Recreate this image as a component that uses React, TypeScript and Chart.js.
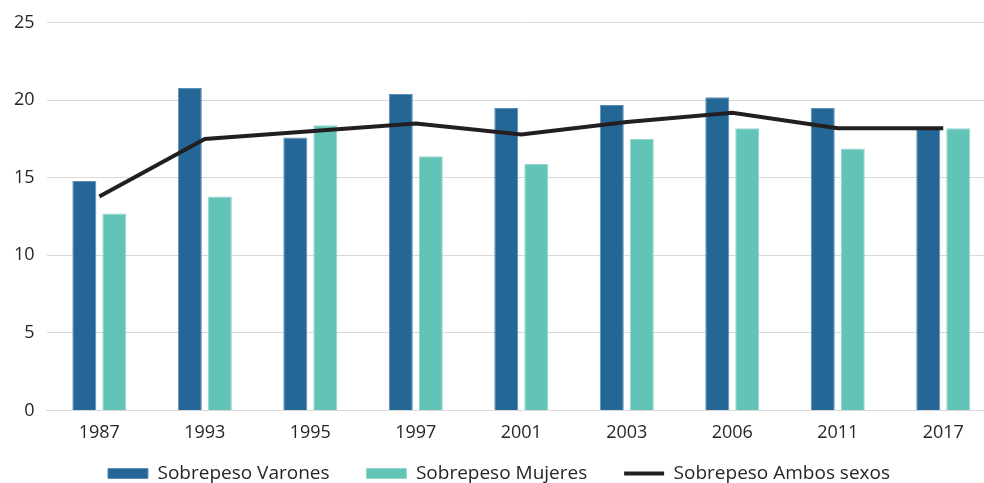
import React, { useEffect, useRef } from "react";
import { Chart, registerables } from "chart.js";

Chart.register(...registerables);

const categories = ["1987", "1993", "1995", "1997", "2001", "2003", "2006", "2011", "2017"];
const varones = [14.8, 20.8, 17.6, 20.4, 19.5, 19.7, 20.2, 19.5, 18.2];
const mujeres = [12.7, 13.8, 18.4, 16.4, 15.9, 17.5, 18.2, 16.9, 18.2];
const ambos = [13.8, 17.5, 18.0, 18.5, 17.8, 18.6, 19.2, 18.2, 18.2];
const yTicks = [0, 5, 10, 15, 20, 25];

const FONT = "'Open Sans', 'Noto Sans', sans-serif";

export default function App() {
  const ref = useRef<HTMLCanvasElement | null>(null);

  useEffect(() => {
    if (!ref.current) return;
    const chart = new Chart(ref.current, {
      type: "bar",
      data: {
        labels: categories,
        datasets: [
          {
            type: "bar",
            label: "Sobrepeso Varones",
            data: varones,
            backgroundColor: "#246796",
            borderColor: "#5d8fb6",
            borderWidth: 1,
            categoryPercentage: 0.569,
            barPercentage: 0.8,
            order: 2,
            pointStyle: "rect",
          },
          {
            type: "bar",
            label: "Sobrepeso Mujeres",
            data: mujeres,
            backgroundColor: "#62c4b6",
            borderColor: "#93d8cd",
            borderWidth: 1,
            categoryPercentage: 0.569,
            barPercentage: 0.8,
            order: 2,
            pointStyle: "rect",
          },
          {
            type: "line",
            label: "Sobrepeso Ambos sexos",
            data: ambos,
            borderColor: "#231f20",
            backgroundColor: "#231f20",
            borderWidth: 4,
            pointRadius: 0,
            tension: 0,
            fill: false,
            order: 0,
            pointStyle: "line",
          },
        ] as any,
      },
      options: {
        responsive: false,
        animation: false,
        layout: { padding: { top: 11, right: 4, left: 2, bottom: 0 } },
        plugins: {
          tooltip: { enabled: false },
          legend: {
            position: "bottom",
            labels: {
              usePointStyle: true,
              pointStyleWidth: 40,
              boxHeight: 10,
              boxWidth: 40,
              padding: 8,
              color: "#262626",
              font: { family: FONT, size: 19 },
              sort: (a: any, b: any) => a.datasetIndex - b.datasetIndex,
              generateLabels: (c: any) => {
                const items = (Chart.defaults.plugins.legend.labels as any).generateLabels(c);
                items.forEach((it: any) => {
                  if (it.datasetIndex < 2) it.text = it.text + "\u2003  ";
                });
                return items;
              },
            },
          },
        },
        scales: {
          x: {
            grid: { display: false, drawTicks: false },
            border: { display: true, color: "#d9d9d9" },
            ticks: { color: "#262626", font: { family: FONT, size: 18 }, padding: 12 },
          },
          y: {
            min: 0,
            max: 25,
            afterBuildTicks: (axis: any) => {
              axis.ticks = yTicks.map((v) => ({ value: v }));
            },
            grid: { color: "#d9d9d9", drawTicks: false },
            border: { display: false },
            ticks: { color: "#262626", font: { family: FONT, size: 18 }, padding: 12 },
          },
        },
      },
    });
    return () => chart.destroy();
  }, []);

  return (
    <div style={{ position: "fixed", left: 0, top: 0, width: 984, height: 483, overflow: "hidden", background: "#fff" }}>
      <canvas ref={ref} width={1000} height={493} />
    </div>
  );
}
